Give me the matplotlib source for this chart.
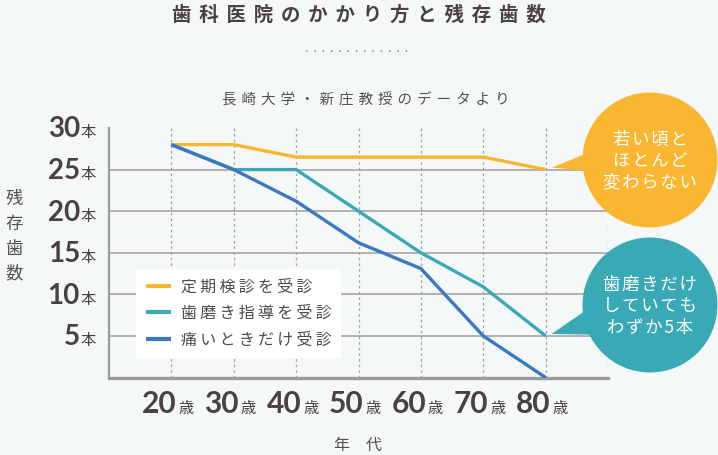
import matplotlib
matplotlib.use("Agg")
import matplotlib.pyplot as plt
import matplotlib.patches as patches
import numpy as np

plt.rcParams["font.family"] = ["Noto Sans CJK JP", "DejaVu Sans"]

# data
ages = [20, 30, 40, 50, 60, 70, 80]
age_labels = ["20", "30", "40", "50", "60", "70", "80"]
regular_checkup = [28, 28, 26.5, 26.5, 26.5, 26.5, 25]
brushing_guidance = [28, 25, 25, 20, 15, 10.9, 5]
only_when_pain = [28, 25, 21.2, 16.2, 13.1, 5, 0]
series_names = ["定期検診を受診", "歯磨き指導を受診", "痛いときだけ受診"]
y_ticks = [5, 10, 15, 20, 25, 30]
callout_top = ["若い頃と", "ほとんど", "変わらない"]
callout_bottom = ["歯磨きだけ", "していても", "わずか5本"]

BG = "#F5F8F8"
DARK = "#4A4146"
GRID = "#ABA5A5"
COLORS = ["#FBB631", "#3AA9B6", "#3A78C0"]
THIN = "\u2009"


def spaced(s, sp):
    return sp.join(list(s))


W, H = 718, 455
fig = plt.figure(figsize=(W / 100, H / 100), dpi=100, facecolor=BG)
ax = fig.add_axes([109 / W, (H - 377.5) / H, 499 / W, 249.5 / H])
ax.set_facecolor(BG)
ax.set_xlim(10, 90)
ax.set_ylim(0, 30)

# grid
ax.hlines([v for v in y_ticks if v < 30], 10, 90, color=GRID, lw=1.2, zorder=1)
ax.vlines(ages + [90], 0, 30, color="#A0A0A0", lw=0.9, linestyles=(0, (2, 2.5)), zorder=1)

for vals, name, c in zip([regular_checkup, brushing_guidance, only_when_pain], series_names, COLORS):
    ax.plot(ages, vals, color=c, lw=2.4, label=spaced(name, THIN), zorder=3,
            solid_capstyle="butt", solid_joinstyle="miter")

for s in ["top", "right"]:
    ax.spines[s].set_visible(False)
ax.spines["left"].set_color("#9C9C9C")
ax.spines["left"].set_linewidth(1.6)
ax.spines["bottom"].set_color("#9C9C9C")
ax.spines["bottom"].set_linewidth(2.4)
ax.set_xticks([])
ax.set_yticks([])

# tick labels: big number + small unit
px = 0.72
for v in y_ticks:
    ax.annotate(str(v), xy=(0, v), xycoords=ax.get_yaxis_transform(),
                xytext=(-29 * px, -9.5 * px), textcoords="offset points",
                ha="right", va="baseline", fontsize=20, family="Lato",
                fontweight="bold", color=DARK, annotation_clip=False)
    ax.annotate("本", xy=(0, v), xycoords=ax.get_yaxis_transform(),
                xytext=(-28 * px, -9.5 * px), textcoords="offset points",
                ha="left", va="baseline", fontsize=11, color=DARK,
                annotation_clip=False)
for a, lab in zip(ages, age_labels):
    ax.annotate(lab, xy=(a, 0), xycoords=ax.get_xaxis_transform(),
                xytext=(5 * px, -35.5 * px), textcoords="offset points",
                ha="right", va="baseline", fontsize=21.5, family="Lato",
                fontweight="bold", color=DARK, annotation_clip=False)
    ax.annotate("歳", xy=(a, 0), xycoords=ax.get_xaxis_transform(),
                xytext=(7 * px, -35.5 * px), textcoords="offset points",
                ha="left", va="baseline", fontsize=11, color=DARK,
                annotation_clip=False)

leg = ax.legend(loc="lower left", bbox_to_anchor=(0.054, 0.078), borderaxespad=0,
                fontsize=11.5, frameon=True, facecolor="white", edgecolor="none",
                framealpha=1, fancybox=False, handlelength=1.6, handletextpad=0.6,
                labelspacing=0.6, borderpad=0.6)
for t in leg.get_texts():
    t.set_color("#4F4A4C")
for h in leg.get_lines():
    h.set_linewidth(3)

# titles and axis names
fig.text(359 / W, 1 - 15 / H, spaced("歯科医院のかかり方と残存歯数", THIN * 2),
         ha="center", va="center", fontsize=14, fontweight="bold", color=DARK)
fig.text(366 / W, 1 - 100 / H, spaced("長崎大学・新庄教授のデータより", "\u2004"),
         ha="center", va="center", fontsize=10.5, color="#555053")
fig.text(14 / W, 1 - 236 / H, "\n".join("残存歯数"), ha="center", va="center",
         fontsize=12.5, color="#555053", linespacing=1.5)
fig.text(358 / W, 1 - 445 / H, "年\u2003代", ha="center", va="center",
         fontsize=11.5, color="#555053")

# overlay in pixel coordinates for callouts and divider
ov = fig.add_axes([0, 0, 1, 1], facecolor="none")
ov.set_xlim(0, W)
ov.set_ylim(H, 0)
ov.axis("off")
ov.plot([306, 414], [51, 51], color="#8A8A8A", lw=1.3, ls=(0, (0.8, 3.8)))


def to_px(x, y):
    dx, dy = ax.transData.transform((x, y))
    return dx, H - dy


def callout(center, tip, base, color, lines):
    tx, ty = tip
    ov.add_patch(patches.Polygon([(tx + 6, ty - 2), base[0], base[1]],
                                 closed=True, color=color, lw=0))
    ov.add_patch(patches.Circle(center, 67.5, color=color, lw=0))
    ov.text(center[0], center[1] + 1, "\n".join(spaced(l, "\u200a") for l in lines),
            ha="center", va="center", fontsize=12.5, color="white", linespacing=1.25)


tip1 = to_px(ages[-1], regular_checkup[-1])
callout((650, 160), tip1, [(600, 148), (600, 172)], COLORS[0], callout_top)
tip2 = to_px(ages[-1], brushing_guidance[-1])
callout((650, 305), tip2, [(598, 302), (610, 335)], COLORS[1], callout_bottom)

fig.savefig("out.png", dpi=100, facecolor=BG)
